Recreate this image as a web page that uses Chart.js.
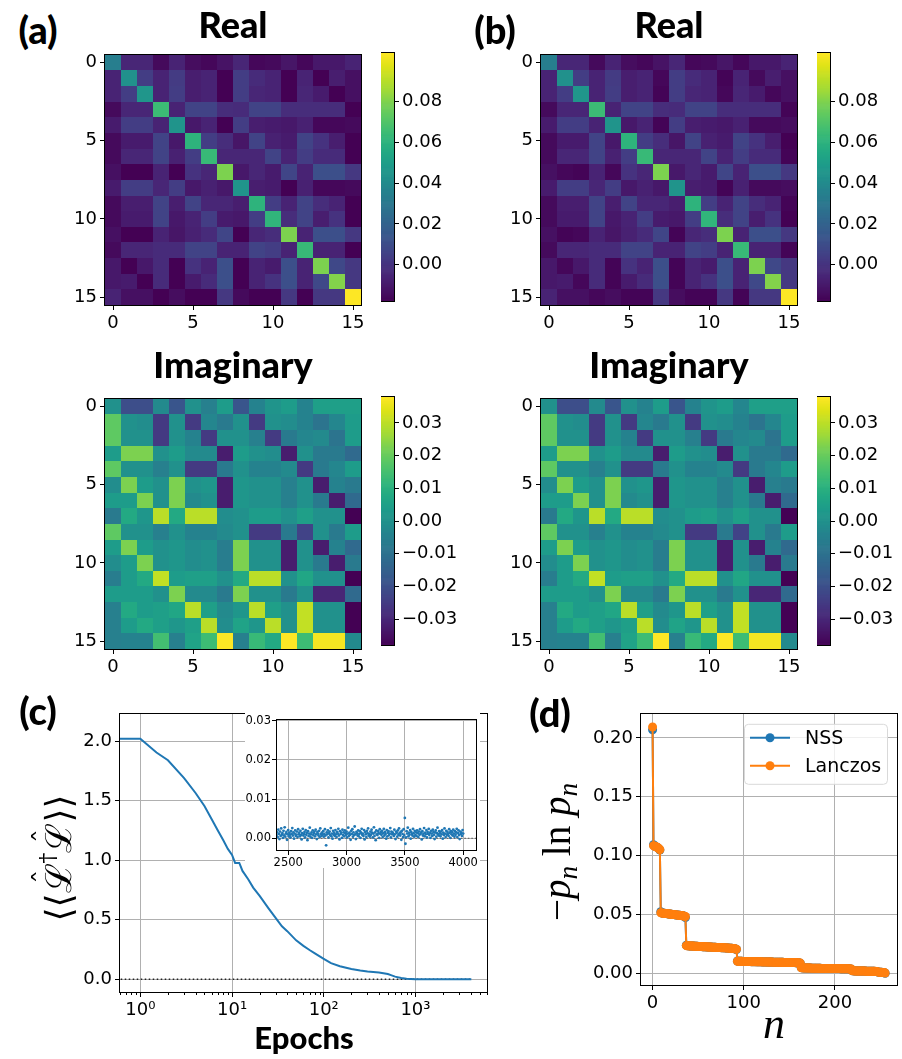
<!DOCTYPE html>
<html>
<head>
<meta charset="utf-8">
<title>Density matrices, convergence and entanglement spectrum</title>
<script src="https://cdn.jsdelivr.net/npm/chart.js@4.4.1/dist/chart.umd.min.js"></script>
<style>
  body { margin: 0; background: #fff; }
  #fig { position: relative; width: 902px; height: 1059px; overflow: hidden; }
  #fig canvas { position: absolute; }
  .lbl { position: absolute; transform: translate(-50%, -50%); white-space: nowrap; line-height: 1; color: #000; }
  .bold { font-family: Lato, sans-serif; font-weight: 900; }
  .math { font-family: 'Liberation Serif', serif; }
  .rot { transform: translate(-50%, -50%) rotate(-90deg); }
  sub { font-size: 0.7em; vertical-align: -0.25em; }
  sup { font-size: 0.6em; vertical-align: 0.75em; }
  .hat { position: relative; display: inline-block; }
  .caret { position: absolute; left: 55%; top: -0.42em; transform: translateX(-50%); font-size: 0.8em; }
</style>
</head>
<body>
<div id="fig">
  <div id="plots"></div>
  <div class="lbl bold" style="left:38px;top:29px;font-size:38px">(a)</div>
  <div class="lbl bold" style="left:495px;top:29px;font-size:38px">(b)</div>
  <div class="lbl bold" style="left:38px;top:710px;font-size:38px">(c)</div>
  <div class="lbl bold" style="left:550px;top:712px;font-size:38px">(d)</div>
  <div class="lbl bold" style="left:233px;top:24px;font-size:36px">Real</div>
  <div class="lbl bold" style="left:669px;top:24px;font-size:36px">Real</div>
  <div class="lbl bold" style="left:233px;top:364px;font-size:36px">Imaginary</div>
  <div class="lbl bold" style="left:669px;top:364px;font-size:36px">Imaginary</div>
  <div class="lbl bold" style="left:304px;top:1037px;font-size:31px">Epochs</div>
  <div class="lbl rot" style="left:57px;top:858px;font-size:36px;font-family:'DejaVu Serif',serif">⟨⟨<span class="hat">ℒ<span class="caret">ˆ</span></span><sup>†</sup><span class="hat">ℒ<span class="caret">ˆ</span></span>⟩⟩</div>
  <div class="lbl rot math" style="left:560px;top:852px;font-size:39px">−<i>p</i><sub><i>n</i></sub> ln <i>p</i><sub><i>n</i></sub></div>
  <div class="lbl math" style="left:774px;top:1024px;font-size:44px"><i>n</i></div>
</div>

<script>
// ---------- data ----------

// heatmap axis ticks (matrix indices)
const matrixTicks = [0, 5, 10, 15];

// real part, values x1e-3
const realA = [
  [34, -5, -5, -15, -6, -14, -16, -12, -5, -16, -15, -11, -16, -10, -10, -6],
  [-6, 43, 4, -6, 3, -8, -6, -18, 4, -3, -6, -18, -6, -18, -8, -13],
  [-6, 4, 46, -6, 4, -8, -6, -18, 4, -5, -6, -18, -5, -9, -18, -13],
  [-15, -5, -5, 65, -6, 6, 6, -2, -3, 6, 6, -2, -2, -2, -2, -18],
  [-9, 4, 4, -6, 45, -10, -6, -18, 4, -8, -9, -10, -7, -16, -16, -15],
  [-15, -9, -9, 6, -10, 61, 4, -2, -11, 6, -7, -9, 6, 0, -8, -18],
  [-15, -5, -5, 6, -7, 4, 64, -5, -5, -5, 6, -6, 4, -3, -3, -18],
  [-13, -18, -18, -6, -18, 0, -5, 80, -10, -5, -9, 7, -6, 11, 11, 2],
  [-9, 4, 4, -5, 4, -10, -7, -10, 45, -8, -9, -18, -7, -16, -16, -15],
  [-15, -8, -8, 6, -8, 6, -5, -5, -8, 61, 4, -6, 6, -2, -6, -18],
  [-15, -9, -9, 6, -10, -6, 4, -9, -10, 4, 62, -2, 6, -8, 0, -18],
  [-13, -18, -18, -6, -11, -7, -3, 7, -18, -5, -2, 80, -6, 11, 11, 2],
  [-15, -5, -5, -3, -3, 6, 6, -6, -6, 6, 4, -6, 64, -6, -6, -18],
  [-10, -18, -10, -3, -18, 0, -6, 11, -18, -6, -9, 11, -6, 80, 8, 2],
  [-10, -9, -18, -3, -18, -9, -3, 11, -18, -6, 0, 11, -6, 8, 81, 2],
  [-6, -13, -13, -18, -14, -18, -18, 2, -15, -18, -18, 2, -18, 2, 2, 104]
];
const realB = [
  [34, -5, -5, -15, -6, -14, -16, -12, -5, -16, -15, -11, -16, -10, -10, -6],
  [-6, 43, 4, -6, 3, -8, -6, -16, 4, -3, -6, -17, -6, -15, -8, -13],
  [-6, 4, 46, -6, 4, -8, -6, -17, 4, -5, -6, -16, -5, -9, -16, -13],
  [-15, -5, -5, 65, -6, 6, 6, -2, -3, 6, 6, -2, -2, -2, -2, -17],
  [-9, 4, 4, -6, 45, -10, -6, -17, 4, -8, -9, -10, -7, -15, -15, -14],
  [-15, -9, -9, 6, -10, 61, 4, -2, -11, 6, -7, -9, 6, 0, -8, -18],
  [-15, -5, -5, 6, -7, 4, 64, -5, -5, -5, 6, -6, 4, -3, -3, -17],
  [-13, -16, -17, -6, -16, 0, -5, 80, -10, -5, -9, 7, -6, 11, 11, 2],
  [-9, 4, 4, -5, 4, -10, -7, -10, 45, -8, -9, -17, -7, -15, -15, -14],
  [-15, -8, -8, 6, -8, 6, -5, -5, -8, 61, 4, -6, 6, -2, -6, -17],
  [-15, -9, -9, 6, -10, -6, 4, -9, -10, 4, 62, -2, 6, -8, 0, -18],
  [-13, -17, -16, -6, -11, -7, -3, 7, -17, -5, -2, 80, -6, 11, 11, 2],
  [-15, -5, -5, -3, -3, 6, 6, -6, -6, 6, 4, -6, 64, -6, -6, -17],
  [-10, -16, -10, -3, -17, 0, -6, 11, -17, -6, -9, 11, -6, 80, 8, 2],
  [-10, -9, -16, -3, -17, -9, -3, 11, -17, -6, 0, 11, -6, 8, 81, 2],
  [-6, -13, -13, -16, -14, -17, -17, 2, -14, -17, -17, 2, -17, 2, 2, 104]
];

// imaginary part, values x1e-3
const imagA = [
  [0, -20, -20, -2, -18, 0, -5, 4, -18, -4, 1, 4, -4, 5, 5, 5],
  [19, 0, -1, -25, 0, -25, -3, -7, 0, -25, 0, -1, -4, -9, -3, 4],
  [19, 0, 0, -25, 0, -4, -25, 0, 0, -5, -25, -7, -3, -2, -9, 4],
  [4, 23, 23, 0, 4, -2, -2, -32, 4, 0, -1, -32, 0, -7, -7, -12],
  [19, 0, 0, -5, 0, -25, -25, -7, 0, -4, -4, -2, -25, -7, -3, 4],
  [-1, 23, 4, 0, 23, 0, 2, -32, 2, 0, 0, -5, 0, -32, -4, -7],
  [4, 4, 23, 0, 23, -2, 0, -32, 2, 0, 0, -5, 0, -7, -32, -12],
  [-7, 8, 2, 30, 8, 30, 30, -1, 0, 4, 4, 0, 5, 0, 0, -38],
  [19, 0, 0, -5, 0, -4, -4, -2, 0, -25, -25, -7, -23, 0, -7, 4],
  [4, 23, 4, 0, 2, -1, 0, -6, 23, 0, 0, -32, 0, -32, -4, -12],
  [-1, 4, 23, 0, 2, -1, 0, -6, 23, 0, 0, -32, 0, -7, -32, -7],
  [-6, 4, 8, 31, 4, 5, 5, 0, 8, 30, 30, 0, 7, 0, 0, -38],
  [4, 4, 4, 0, 23, -2, -2, -7, 23, 0, 0, -7, 0, -30, -30, -12],
  [-5, 8, 4, 5, 7, 30, 5, -2, 2, 30, 5, 0, 31, 0, 0, -38],
  [-5, 4, 8, 5, 2, 5, 30, -1, 6, 2, 30, 0, 31, 0, 0, -38],
  [-5, -4, -4, 15, -5, 6, 14, 38, -5, 13, 8, 38, 14, 37, 37, -2]
];
const imagB = [
  [0, -20, -20, -2, -18, 0, -4, 4, -18, -4, 1, 4, -3, 5, 5, 5],
  [19, 0, -1, -25, 0, -25, -3, -7, 0, -25, 0, -1, -4, -9, -3, 4],
  [19, 0, 0, -25, 0, -4, -25, 0, 0, -5, -25, -7, -3, -2, -9, 4],
  [4, 23, 23, 0, 4, -2, -2, -32, 4, 0, -1, -32, 0, -7, -7, -12],
  [19, 0, 0, -5, 0, -25, -25, -7, 0, -4, -4, -2, -25, -7, -3, 4],
  [-1, 23, 4, 0, 23, 0, 2, -32, 2, 0, 0, -5, 0, -32, -5, -7],
  [4, 4, 23, 0, 23, -2, 0, -32, 2, 0, 0, -5, 0, -7, -32, -12],
  [-7, 8, 2, 30, 8, 30, 30, -1, 0, 4, 5, 0, 5, 0, 0, -38],
  [19, 0, 0, -5, 0, -4, -4, -2, 0, -25, -25, -7, -23, 0, -7, 4],
  [4, 23, 4, 0, 2, -1, 0, -6, 23, 0, 0, -32, 0, -32, -4, -12],
  [-1, 4, 23, 0, 2, -1, 0, -6, 23, 0, 0, -32, 0, -7, -32, -7],
  [-6, 4, 8, 31, 4, 5, 5, 0, 8, 30, 30, 0, 7, 0, 0, -38],
  [4, 4, 4, 0, 23, -2, -2, -7, 23, 0, 0, -7, 0, -30, -30, -12],
  [-5, 8, 4, 5, 7, 30, 5, -2, 2, 30, 5, 0, 31, 0, 0, -38],
  [-5, 4, 8, 5, 2, 5, 30, -1, 6, 2, 30, 0, 31, 0, 0, -38],
  [-5, -4, -4, 15, -5, 6, 14, 38, -5, 13, 8, 38, 14, 37, 37, -2]
];

// colour ranges and colourbar ticks
const realRange = [-0.018, 0.104];
const imagRange = [-0.038, 0.038];
const realTicks = [0, 0.02, 0.04, 0.06, 0.08];
const imagTicks = [-0.03, -0.02, -0.01, 0, 0.01, 0.02, 0.03];

// (c) training curve
const epochs = [0.6, 1, 1.5, 2, 3, 4, 5, 6, 7, 8, 9, 10, 10.8, 12, 13, 15, 17, 20, 25, 30, 35, 40,
  50, 60, 70, 80, 100, 120, 150, 200, 250, 300, 400, 500, 550, 600, 700, 800, 1000, 4070];
const lossValues = [2.02, 2.02, 1.905, 1.84, 1.69, 1.565, 1.455, 1.345, 1.25, 1.17, 1.095, 1.045, 0.977, 0.977,
  0.91, 0.84, 0.77, 0.70, 0.595, 0.513, 0.445, 0.404, 0.327, 0.281, 0.246, 0.218, 0.172, 0.136, 0.109,
  0.087, 0.074, 0.065, 0.057, 0.044, 0.033, 0.022, 0.011, 0.005, 0.001, 0.0];
const epochTicks = [1, 10, 100, 1000];
const lossTicks = [0, 0.5, 1, 1.5, 2];

// (c) inset: late epochs, one sample every 5 epochs from 2400, values x1e-4
const insetStart = 2400;
const insetStep = 5;
const insetLoss = [
  8, 15, 3, 22, 11, -2, 17, 6, 25, 9, 13, 1, 19, 7, 28, 4, 12, 16, -4, 10,
  21, 5, 14, 9, 2, 18, 11, 26, 7, 15, -1, 12, 20, 6, 9, 17, 3, 23, 10, 14,
  5, 19, 8, -3, 13, 24, 7, 11, 16, 2, 21, 9, 14, -5, 18, 6, 12, 27, 4, 10,
  15, 1, 20, 8, 13, 17, 5, 22, 10, -2, 16, 12, 7, 19, 3, 25, 11, 6, 14, 9,
  18, 4, 11, 23, 7, -18, 15, 10, 20, 2, 13, 17, 8, 26, 5, 12, -1, 19, 9, 14,
  6, 21, 10, 3, 16, 12, 24, 7, -3, 18, 11, 14, 1, 22, 8, 15, 5, 20, 13, 9,
  17, 2, 12, 27, 6, 14, 9, -4, 19, 11, 23, 4, 15, 8, 30, 10, -2, 16, 13, 7,
  20, 5, 11, 18, 1, 14, 24, 9, 12, 6, 21, -3, 16, 10, 3, 19, 13, 25, 7, 11,
  4, 17, 9, 22, 14, 2, 12, 28, 6, 15, -5, 20, 10, 8, 18, 13, 1, 23, 11, 16,
  9, 19, 3, 13, 24, 7, 16, 11, -1, 21, 5, 14, 18, 8, 12, 26, 2, 17, 10, 15,
  12, 6, 22, 10, -2, 17, 14, 4, 20, 9, 25, 13, 7, 16, -4, 19, 11, 3, 23, 8,
  52, -14, 2, 18, 12, 27, 5, 14, 9, 21, -1, 16, 11, 7, 24, 13, 4, 19, 8, 15,
  6, 20, 13, 3, 17, 9, 23, 11, 15, -3, 18, 7, 12, 26, 5, 14, 10, 21, 2, 16,
  11, 24, 8, 14, 1, 19, 12, 6, 22, 16, 9, -2, 15, 20, 4, 13, 27, 10, 7, 18,
  13, 5, 17, 10, 21, -1, 14, 8, 25, 12, 3, 19, 9, 16, 11, 6, 23, 14, 1, 18,
  10, 16, 7, 22, 12, 4, 18, 9, 15, 24, 3, 13, 20, 8, -2, 17, 11, 14, 6, 21,
  12
];
const insetTicksX = [2500, 3000, 3500, 4000];
const insetTicksY = [0, 0.01, 0.02, 0.03];

// (d) -p_n ln p_n for n = 0..255, values x1e-4
const entropyNSS = [
  2068,
  1092, 1084, 1079, 1074, 1070, 1064, 1058, 1047,
  524, 514, 512, 511, 510, 509, 508, 507, 506, 505, 504, 503, 502, 501, 500, 499, 498, 497, 496, 495, 494, 493, 492, 491, 490, 488, 485, 474,
  239, 236, 235, 234, 234, 233, 233, 232, 232, 231, 231, 230, 230, 229, 229, 228,
  228, 228, 227, 227, 226, 226, 226, 225, 225, 224, 224, 224, 223, 223, 222, 222,
  222, 221, 221, 220, 220, 220, 219, 219, 218, 218, 218, 217, 217, 216, 216, 215,
  215, 214, 213, 212, 211, 210, 207, 203,
  106, 104, 103, 103, 103, 103, 102, 102, 102, 102, 101, 101, 101, 101, 101, 100, 100, 100, 100, 100,
  100, 99, 99, 99, 99, 99, 99, 98, 98, 98, 98, 98, 98, 97, 97, 97, 97, 97, 97, 96,
  96, 96, 96, 96, 96, 95, 95, 95, 95, 95, 95, 94, 94, 94, 94, 94, 93, 93, 93, 93,
  93, 92, 92, 92, 91, 91, 90, 89, 88, 86,
  49, 48, 47, 47, 47, 47, 46, 46, 46, 46, 46, 45, 45, 45, 45, 45, 44, 44, 44, 44, 44, 44, 43, 43,
  43, 43, 43, 43, 43, 42, 42, 42, 42, 42, 42, 42, 41, 41, 41, 41, 41, 41, 41, 40, 40, 40, 40, 40,
  40, 39, 39, 39, 39, 38, 37, 36,
  23, 22, 22, 21, 21, 21, 21, 21, 21, 20, 20, 20, 20, 20, 20, 19, 19, 19, 19, 19, 19, 18, 18, 18, 18, 17, 17, 16,
  12, 11, 11, 10, 10, 9, 8, 8,
  2
];
const entropyLanczos = [
  2092,
  1085, 1082, 1078, 1075, 1071, 1066, 1060, 1050,
  515, 513, 512, 511, 510, 509, 508, 507, 506, 505, 504, 503, 502, 501, 500, 499, 498, 497, 496, 495, 494, 493, 492, 491, 490, 488, 486, 483,
  236, 235, 235, 234, 234, 233, 233, 232, 232, 231, 231, 230, 230, 229, 229, 228,
  228, 228, 227, 227, 226, 226, 226, 225, 225, 224, 224, 224, 223, 223, 222, 222,
  222, 221, 221, 220, 220, 220, 219, 219, 218, 218, 218, 217, 217, 216, 216, 215,
  215, 214, 213, 212, 211, 210, 208, 206,
  104, 104, 103, 103, 103, 103, 102, 102, 102, 102, 101, 101, 101, 101, 101, 100, 100, 100, 100, 100,
  100, 99, 99, 99, 99, 99, 99, 98, 98, 98, 98, 98, 98, 97, 97, 97, 97, 97, 97, 96,
  96, 96, 96, 96, 96, 95, 95, 95, 95, 95, 95, 94, 94, 94, 94, 94, 93, 93, 93, 93,
  93, 92, 92, 92, 91, 91, 90, 90, 89, 88,
  48, 48, 47, 47, 47, 47, 46, 46, 46, 46, 46, 45, 45, 45, 45, 45, 44, 44, 44, 44, 44, 44, 43, 43,
  43, 43, 43, 43, 43, 42, 42, 42, 42, 42, 42, 42, 41, 41, 41, 41, 41, 41, 41, 40, 40, 40, 40, 40,
  40, 39, 39, 39, 39, 38, 38, 37,
  22, 22, 22, 21, 21, 21, 21, 21, 21, 20, 20, 20, 20, 20, 20, 19, 19, 19, 19, 19, 19, 18, 18, 18, 18, 18, 17, 17,
  12, 11, 11, 10, 10, 9, 9, 8,
  3
];
const stateTicks = [0, 100, 200];
const entropyTicks = [0, 0.05, 0.10, 0.15, 0.20];

// ---------- helpers ----------

Chart.defaults.font.family = "'DejaVu Sans', sans-serif";
Chart.defaults.font.size = 18;
Chart.defaults.color = '#000';
Chart.defaults.animation = false;
Chart.defaults.events = [];

const BLUE = '#1f77b4';
const ORANGE = '#ff7f0e';
const GRID = '#b0b0b0';

// viridis colour map, sampled every 0.05
const viridisHex = ['#440154', '#471365', '#482475', '#46337f', '#414487', '#3b528b', '#355f8d',
  '#2f6c8e', '#2a788e', '#25838e', '#21918c', '#1e9b8a', '#22a884', '#2fb47c', '#44bf70',
  '#5ec962', '#7ad151', '#a0da39', '#bddf26', '#dfe318', '#fde725'];
const viridisRGB = viridisHex.map(h => [1, 3, 5].map(i => parseInt(h.substr(i, 2), 16)));
function viridis(t) {
  t = Math.min(1, Math.max(0, t));
  const p = t * (viridisRGB.length - 1);
  const i = Math.min(Math.floor(p), viridisRGB.length - 2);
  const f = p - i;
  const a = viridisRGB[i], b = viridisRGB[i + 1];
  return 'rgb(' + a.map((v, k) => Math.round(v + (b[k] - v) * f)).join(',') + ')';
}

function fmt(v, digits) {
  const s = Math.abs(v).toFixed(digits);
  return v < -1e-12 ? '\u2212' + s : s;
}

function addCanvas(left, top, w, h, bg) {
  const c = document.createElement('canvas');
  c.width = w; c.height = h;
  c.style.left = left + 'px';
  c.style.top = top + 'px';
  c.style.width = w + 'px';
  c.style.height = h + 'px';
  if (bg) c.style.background = bg;
  document.getElementById('plots').appendChild(c);
  return c;
}

const fixedTicks = list => scale => { scale.ticks = list.map(v => ({ value: v })); };

// black box round the plot area
const frame = {
  id: 'frame',
  afterDatasetsDraw(chart) {
    const { ctx, chartArea: a } = chart;
    ctx.save();
    ctx.strokeStyle = '#000';
    ctx.lineWidth = 1;
    ctx.strokeRect(Math.round(a.left) - 0.5, Math.round(a.top) - 0.5,
      Math.round(a.right - a.left) + 1, Math.round(a.bottom - a.top) + 1);
    ctx.restore();
  }
};

// heatmap cells from the dataset, one rectangle per (row, col)
const heatCells = {
  id: 'heatCells',
  beforeDatasetsDraw(chart, args, opts) {
    const { ctx, scales: { x, y } } = chart;
    const [lo, hi] = opts.range;
    ctx.save();
    chart.data.datasets[0].data.forEach(cell => {
      const x0 = Math.round(x.getPixelForValue(cell.x - 0.5));
      const x1 = Math.round(x.getPixelForValue(cell.x + 0.5));
      const y0 = Math.round(y.getPixelForValue(cell.y - 0.5));
      const y1 = Math.round(y.getPixelForValue(cell.y + 0.5));
      ctx.fillStyle = viridis((cell.v - lo) / (hi - lo));
      ctx.fillRect(Math.min(x0, x1), Math.min(y0, y1), Math.abs(x1 - x0), Math.abs(y1 - y0));
    });
    ctx.restore();
  }
};

// colourbar strip drawn along the y scale
const colorbarFill = {
  id: 'colorbarFill',
  beforeDatasetsDraw(chart) {
    const { ctx, chartArea: a, scales: { y } } = chart;
    const steps = 256;
    ctx.save();
    for (let k = 0; k < steps; k++) {
      const v0 = y.min + (y.max - y.min) * k / steps;
      const v1 = y.min + (y.max - y.min) * (k + 1) / steps;
      const p0 = y.getPixelForValue(v0), p1 = y.getPixelForValue(v1);
      ctx.fillStyle = viridis((k + 0.5) / steps);
      ctx.fillRect(a.left, p1, a.right - a.left, p0 - p1 + 0.7);
    }
    ctx.restore();
  }
};

function tickAxis(extra) {
  return Object.assign({
    border: { display: false },
    grid: { display: true, drawOnChartArea: false, drawTicks: true, tickLength: 5, tickColor: '#000', tickWidth: 1 },
    ticks: { padding: 3, autoSkip: false, maxRotation: 0, color: '#000' }
  }, extra);
}

function heatmap(left, top, matrix, range) {
  const cells = [];
  matrix.forEach((row, r) => row.forEach((val, c) => cells.push({ x: c, y: r, v: val / 1000 })));
  const el = addCanvas(left - 45, top - 8, 45 + 256 + 16, 8 + 256 + 40);
  new Chart(el, {
    type: 'scatter',
    data: { datasets: [{ data: cells, pointRadius: 0 }] },
    options: {
      responsive: false, devicePixelRatio: 1,
      layout: { padding: { top: 8, right: 16, left: 0, bottom: 0 } },
      plugins: { legend: { display: false }, tooltip: { enabled: false }, heatCells: { range } },
      scales: {
        x: tickAxis({ type: 'linear', min: -0.5, max: 15.5, afterBuildTicks: fixedTicks(matrixTicks),
          afterFit: s => { s.height = 40; } }),
        y: tickAxis({ type: 'linear', min: -0.5, max: 15.5, reverse: true, afterBuildTicks: fixedTicks(matrixTicks),
          afterFit: s => { s.width = 45; } })
      }
    },
    plugins: [heatCells, frame]
  });
}

function colorbar(left, top, range, ticks) {
  const el = addCanvas(left, top - 10, 13 + 62, 10 + 256 + 10);
  new Chart(el, {
    type: 'scatter',
    data: { datasets: [] },
    options: {
      responsive: false, devicePixelRatio: 1,
      layout: { padding: { top: 10, bottom: 10, left: 0, right: 0 } },
      plugins: { legend: { display: false }, tooltip: { enabled: false } },
      scales: {
        x: { display: false, min: 0, max: 1 },
        y: tickAxis({ type: 'linear', position: 'right', min: range[0], max: range[1],
          afterBuildTicks: fixedTicks(ticks), afterFit: s => { s.width = 62; },
          ticks: { padding: 3, autoSkip: false, color: '#000', callback: v => fmt(v, 2) } })
      }
    },
    plugins: [colorbarFill, frame]
  });
}

// ---------- (a) and (b): density matrices ----------
heatmap(105, 49, realA, realRange);
colorbar(381, 49, realRange, realTicks);
heatmap(105, 393, imagA, imagRange);
colorbar(381, 393, imagRange, imagTicks);

heatmap(541, 49, realB, realRange);
colorbar(817, 49, realRange, realTicks);
heatmap(541, 393, imagB, imagRange);
colorbar(817, 393, imagRange, imagTicks);

// ---------- (c): loss against epochs ----------
const superscripts = ['\u2070', '\u00b9', '\u00b2', '\u00b3', '\u2074'];

const minorLogTicks = {
  id: 'minorLogTicks',
  afterDraw(chart) {
    const { ctx, chartArea: a, scales: { x } } = chart;
    ctx.save();
    ctx.strokeStyle = '#000';
    ctx.lineWidth = 1;
    [0.1, 1, 10, 100, 1000].forEach(dec => {
      for (let m = 2; m <= 9; m++) {
        const v = m * dec;
        if (v < x.min || v > x.max) continue;
        const px = Math.round(x.getPixelForValue(v)) + 0.5;
        ctx.beginPath();
        ctx.moveTo(px, a.bottom);
        ctx.lineTo(px, a.bottom + 3);
        ctx.stroke();
      }
    });
    ctx.restore();
  }
};

const gridAxis = extra => {
  const ax = tickAxis(extra);
  ax.grid = { display: true, drawOnChartArea: true, color: GRID, lineWidth: 1, drawTicks: true,
    tickLength: 5, tickColor: '#000', tickWidth: 1 };
  return ax;
};

const mainEl = addCanvas(0, 700, 120 + 367 + 10, 7 + 285 + 40);
new Chart(mainEl, {
  type: 'scatter',
  data: {
    datasets: [
      {
        data: epochs.map((e, i) => ({ x: e, y: lossValues[i] })),
        showLine: true, borderColor: BLUE, borderWidth: 2, pointRadius: 0
      },
      {
        data: [{ x: 0.5, y: 0 }, { x: 4000, y: 0 }],
        showLine: true, borderColor: '#222', borderWidth: 1.3, borderDash: [1.5, 2.5], pointRadius: 0
      }
    ]
  },
  options: {
    responsive: false, devicePixelRatio: 1,
    layout: { padding: { top: 7, right: 10, left: 0, bottom: 0 } },
    plugins: { legend: { display: false }, tooltip: { enabled: false } },
    scales: {
      x: gridAxis({ type: 'logarithmic', min: 0.64, max: 6030, afterBuildTicks: fixedTicks(epochTicks),
        afterFit: s => { s.height = 40; },
        ticks: { padding: 3, autoSkip: false, maxRotation: 0, color: '#000',
          callback: v => '10' + superscripts[Math.round(Math.log10(v))] } }),
      y: gridAxis({ type: 'linear', min: -0.107, max: 2.23, afterBuildTicks: fixedTicks(lossTicks),
        afterFit: s => { s.width = 120; },
        ticks: { padding: 3, autoSkip: false, color: '#000', callback: v => fmt(v, 1) } })
    }
  },
  plugins: [frame, minorLogTicks]
});

// inset: the converged tail
const insetEl = addCanvas(245, 710, 235, 158, '#fff');
new Chart(insetEl, {
  type: 'scatter',
  data: {
    datasets: [
      {
        data: insetLoss.map((v, i) => ({ x: insetStart + insetStep * i, y: v / 10000 })),
        pointRadius: 1.4, pointBorderWidth: 0, pointBackgroundColor: BLUE
      },
      {
        data: [{ x: 2300, y: 0 }, { x: 4200, y: 0 }],
        showLine: true, borderColor: '#555', borderWidth: 1, borderDash: [1.5, 2], pointRadius: 0
      }
    ]
  },
  options: {
    responsive: false, devicePixelRatio: 1,
    layout: { padding: { top: 10, right: 2, left: 0, bottom: 0 } },
    plugins: { legend: { display: false }, tooltip: { enabled: false } },
    scales: {
      x: gridAxis({ type: 'linear', min: 2404, max: 4110, afterBuildTicks: fixedTicks(insetTicksX),
        afterFit: s => { s.height = 18; },
        ticks: { padding: 1, autoSkip: false, maxRotation: 0, color: '#000', font: { size: 11.5 },
          callback: v => String(v) } }),
      y: gridAxis({ type: 'linear', min: -0.003, max: 0.0302, afterBuildTicks: fixedTicks(insetTicksY),
        afterFit: s => { s.width = 32; },
        ticks: { padding: 1, autoSkip: false, color: '#000', font: { size: 11.5 }, callback: v => fmt(v, 2) } })
    }
  },
  plugins: [frame]
});
insetEl.style.zIndex = 1;

// ---------- (d): entanglement spectrum ----------
const legendBox = {
  id: 'legendBox',
  afterDatasetsDraw(chart) {
    const { ctx, chartArea: a } = chart;
    const x0 = a.right - 153, y0 = a.top + 10, w = 143, h = 60;
    ctx.save();
    ctx.fillStyle = 'rgba(255,255,255,0.8)';
    ctx.strokeStyle = '#d9d9d9';
    ctx.lineWidth = 1;
    ctx.beginPath();
    ctx.roundRect(x0 + 0.5, y0 + 0.5, w, h, 4);
    ctx.fill();
    ctx.stroke();
    chart.data.datasets.forEach((ds, i) => {
      const yy = y0 + 14 + i * 28;
      ctx.strokeStyle = ds.borderColor;
      ctx.lineWidth = 2;
      ctx.beginPath();
      ctx.moveTo(x0 + 6, yy);
      ctx.lineTo(x0 + 46, yy);
      ctx.stroke();
      ctx.fillStyle = ds.borderColor;
      ctx.beginPath();
      ctx.arc(x0 + 26, yy, 4.5, 0, Math.PI * 2);
      ctx.fill();
      ctx.fillStyle = '#000';
      ctx.font = "19px 'DejaVu Sans', sans-serif";
      ctx.textBaseline = 'middle';
      ctx.fillText(ds.label, x0 + 61, yy + 1);
    });
    ctx.restore();
  }
};

const dEl = addCanvas(571, 700, 70 + 256 + 5, 11 + 274 + 40);
new Chart(dEl, {
  type: 'scatter',
  data: {
    datasets: [
      {
        label: 'NSS', order: 1,
        data: entropyNSS.map((v, n) => ({ x: n, y: v / 10000 })),
        showLine: true, borderColor: BLUE, backgroundColor: BLUE, borderWidth: 2,
        pointRadius: 4.5, pointBorderWidth: 0, pointBackgroundColor: BLUE
      },
      {
        label: 'Lanczos', order: 0,
        data: entropyLanczos.map((v, n) => ({ x: n, y: v / 10000 })),
        showLine: true, borderColor: ORANGE, backgroundColor: ORANGE, borderWidth: 2,
        pointRadius: 4.5, pointBorderWidth: 0, pointBackgroundColor: ORANGE
      }
    ]
  },
  options: {
    responsive: false, devicePixelRatio: 1,
    layout: { padding: { top: 11, right: 5, left: 0, bottom: 0 } },
    plugins: { legend: { display: false }, tooltip: { enabled: false } },
    scales: {
      x: gridAxis({ type: 'linear', min: -12.7, max: 268, afterBuildTicks: fixedTicks(stateTicks),
        afterFit: s => { s.height = 40; } }),
      y: gridAxis({ type: 'linear', min: -0.0098, max: 0.2204, afterBuildTicks: fixedTicks(entropyTicks),
        afterFit: s => { s.width = 70; },
        ticks: { padding: 3, autoSkip: false, color: '#000', callback: v => fmt(v, 2) } })
    }
  },
  plugins: [frame, legendBox]
});
</script>
</body>
</html>
